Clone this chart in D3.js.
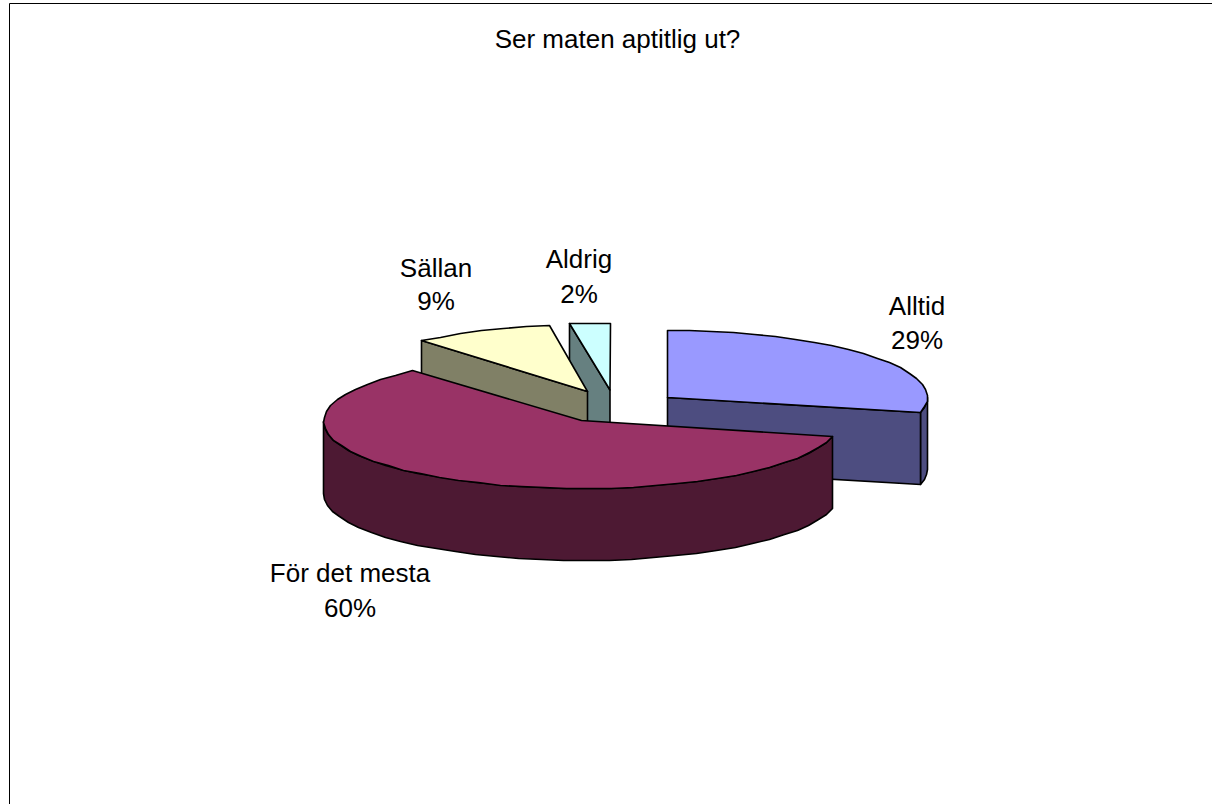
<!DOCTYPE html>
<html><head><meta charset="utf-8">
<style>html,body{margin:0;padding:0;background:#fff}svg{display:block}</style>
<script src="https://cdn.jsdelivr.net/npm/d3@7/dist/d3.min.js"></script>
</head><body><svg id="c" width="1212" height="804"></svg>
<script>
const titleText = "Ser maten aptitlig ut?";
const categories = ["Alltid", "För det mesta", "Sällan", "Aldrig"];
const values = [28.6, 60.0, 9.0, 2.4];
const topColors = ["#9999FF", "#993366", "#FFFFCC", "#CCFFFF"];
const wallColors = ["#4D4D80", "#4D1933", "#808066", "#668080"];
const centers = [[667, 397], [581, 421], [587, 391], [609.5, 389.5]];
const apexes = [[667, 397], [581, 420], [587, 391], [609.5, 389.5]];
const radiusX = [260, 258, 253, 270];
const radiusY = 67, depth = 72;
const labelPos = [[917, 315, 349], [350, 582, 617], [436, 277, 310], [579, 268, 303]];

const svg = d3.select("#c");
const pct = d3.format(".0f");
const pie = d3.pie().value(d => d).sort(null)(values);
const line = d3.line();

svg.append("path").attr("d", "M9.5,804V3.5H1212").attr("fill", "none").attr("stroke", "#000").attr("stroke-width", 1);

function rim(i, a0, a1, dy) {
  const c = centers[i], step = 5 * Math.PI / 180;
  const n = Math.max(1, Math.round(Math.abs(a1 - a0) / step));
  return d3.range(n + 1).map(k => {
    const a = a0 + (a1 - a0) * k / n;
    return [Math.round(c[0] + radiusX[i] * Math.sin(a)) + .5,
            Math.round(c[1] - radiusY * Math.cos(a) + dy) + .5];
  });
}
function poly(pts, fill) {
  svg.append("path").attr("d", line(pts) + "Z").attr("fill", fill)
    .attr("stroke", "#000").attr("stroke-width", 1.6).attr("stroke-linejoin", "round");
}
function apexAt(i, dy) { return [apexes[i][0] + .5, apexes[i][1] + dy + .5]; }
function face(i, a) {
  const p = rim(i, a, a, 0)[0], q = rim(i, a, a, depth)[0];
  return [p, apexAt(i, 0), apexAt(i, depth), q];
}
function outer(i, a0, a1) {
  return rim(i, a0, a1, 0).concat(rim(i, a1, a0, depth));
}
function topFace(i) {
  return [apexAt(i, 0)].concat(rim(i, pie[i].startAngle, pie[i].endAngle, 0));
}

// back to front: exploded slices behind, the large slice last
poly(outer(0, Math.PI / 2, pie[0].endAngle), wallColors[0]);
poly(face(0, pie[0].endAngle), wallColors[0]);
poly(topFace(0), topColors[0]);

poly(face(3, pie[3].startAngle), wallColors[3]);
poly(topFace(3), topColors[3]);

poly(face(2, pie[2].startAngle), wallColors[2]);
poly(topFace(2), topColors[2]);

poly(outer(1, pie[1].startAngle, 3 * Math.PI / 2), wallColors[1]);
poly(topFace(1), topColors[1]);

const font = "'Liberation Sans', Arial, sans-serif";
svg.append("text").attr("x", 617.5).attr("y", 48).attr("text-anchor", "middle")
  .attr("font-family", font).attr("font-size", 26).text(titleText);
categories.forEach((c, i) => {
  const g = svg.append("g").attr("font-family", font).attr("font-size", 26).attr("text-anchor", "middle");
  g.append("text").attr("x", labelPos[i][0]).attr("y", labelPos[i][1]).text(c);
  g.append("text").attr("x", labelPos[i][0]).attr("y", labelPos[i][2]).text(pct(values[i]) + "%");
});
</script></body></html>
